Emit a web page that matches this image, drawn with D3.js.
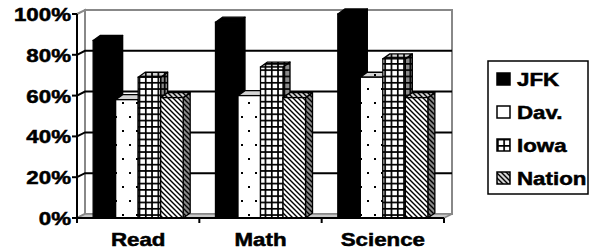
<!DOCTYPE html>
<html>
<head>
<meta charset="utf-8">
<script src="https://cdn.jsdelivr.net/npm/d3@7"></script>
<style>
    body { margin: 0; background: #fff; }
    text { font-family: "Liberation Sans", Arial, sans-serif; font-weight: bold; font-size: 18px; stroke: #000; stroke-width: 0.5px; }
</style>
</head>
<body>
<div id="chart"></div>
<script>
// Chart data
const categories = ['Read', 'Math', 'Science'];
const seriesNames = ['JFK', 'Dav.', 'Iowa', 'Nation'];
const jfk = [87, 96, 100];
const dav = [58, 60, 69];
const iowa = [69, 74, 78];
const nation = [59, 59, 59];
const yTicks = [0, 20, 40, 60, 80, 100];

function drawChart() {
    let width = 598;
    let height = 250;
    let series = [jfk, dav, iowa, nation];
    let fills = ['solid', 'dots', 'grid', 'hatch'];

    // 3D offsets: wall depth and bar depth
    let wdx = 8, wdy = 4;
    let bdx = 7, bdy = 5;
    let stretch = 1.24;

    const svg = d3.select('#chart')
    .append('svg')
    .attr('width', width)
    .attr('height', height)

    let x = d3.scaleBand()
    .domain(categories)
    .range([77, 444])
    .paddingInner(0.264)
    .paddingOuter(0.132)

    let xs = d3.scaleBand()
    .domain(seriesNames)
    .range([0, x.bandwidth()])

    let y = d3.scaleLinear()
    .domain([0, 100])
    .range([218, 14])

    // Patterns, one set per face shade
    const defs = svg.append('defs');
    function makePatterns(suffix, bg) {
        let dots = defs.append('pattern')
        .attr('id', 'dots' + suffix)
        .attr('patternUnits', 'userSpaceOnUse')
        .attr('width', 14).attr('height', 28)
        dots.append('rect').attr('width', 14).attr('height', 28).attr('fill', bg)
        dots.append('rect').attr('x', 3).attr('y', 4).attr('width', 2).attr('height', 2).attr('fill', '#000')
        dots.append('rect').attr('x', 10).attr('y', 18).attr('width', 2).attr('height', 2).attr('fill', '#000')

        let grid = defs.append('pattern')
        .attr('id', 'grid' + suffix)
        .attr('patternUnits', 'userSpaceOnUse')
        .attr('width', 6.3).attr('height', 6.3)
        grid.append('rect').attr('width', 6.3).attr('height', 6.3).attr('fill', bg)
        grid.append('rect').attr('width', 1.7).attr('height', 6.3).attr('fill', '#000')
        grid.append('rect').attr('width', 6.3).attr('height', 1.7).attr('fill', '#000')

        let hatch = defs.append('pattern')
        .attr('id', 'hatch' + suffix)
        .attr('patternUnits', 'userSpaceOnUse')
        .attr('width', 5).attr('height', 5)
        hatch.append('rect').attr('width', 5).attr('height', 5).attr('fill', bg)
        hatch.append('path')
        .attr('d', 'M-1,-1L6,6M-1,4L1,6M4,-1L6,1')
        .attr('stroke', '#000')
        .attr('stroke-width', 1.4)
    }
    makePatterns('F', '#ffffff');
    makePatterns('T', '#d4d4d4');
    makePatterns('S', '#8a8a8a');

    function faceFill(kind, face) {
        if (kind === 'solid') return '#000';
        return 'url(#' + kind + face + ')';
    }

    let y0 = y(0);
    let left = x.range()[0];
    let right = x.range()[1];

    // Side wall, back wall and floor
    svg.append('path')
    .attr('d', `M${left},${y(100)}L${left + wdx},${y(100) - wdy}L${left + wdx},${y0 - wdy}L${left},${y0}Z`)
    .attr('fill', '#fff')
    .attr('stroke', '#888')
    .attr('stroke-width', 2)

    svg.append('rect')
    .attr('x', left + wdx)
    .attr('y', y(100) - wdy)
    .attr('width', right - left)
    .attr('height', y0 - y(100))
    .attr('fill', '#fff')
    .attr('stroke', '#888')
    .attr('stroke-width', 2)

    svg.append('path')
    .attr('d', `M${left},${y0}L${left + wdx},${y0 - wdy}L${right + wdx},${y0 - wdy}L${right},${y0}Z`)
    .attr('fill', '#c8c8c8')
    .attr('stroke', '#888')
    .attr('stroke-width', 1.5)

    // Gridlines on the back wall and the side wall
    let gridTicks = yTicks.filter(t => t > 0 && t < 100);
    svg.selectAll('.grid')
    .data(gridTicks)
    .enter()
    .append('path')
    .attr('class', 'grid')
    .attr('d', t => `M${left},${y(t)}L${left + wdx},${y(t) - wdy}L${right + wdx},${y(t) - wdy}`)
    .attr('fill', 'none')
    .attr('stroke', '#000')
    .attr('stroke-width', 2)

    // Bars, drawn left to right so each hides the side of the one before
    categories.forEach((cat, ci) => {
        seriesNames.forEach((name, si) => {
            let v = series[si][ci];
            let bx = x(cat) + xs(name);
            let bw = xs.bandwidth();
            let top = y(v);
            let g = svg.append('g').attr('class', 'bar');

            g.append('path')
            .attr('d', `M${bx + bw},${top}L${bx + bw + bdx},${top - bdy}L${bx + bw + bdx},${y0 - bdy}L${bx + bw},${y0}Z`)
            .attr('fill', faceFill(fills[si], 'S'))
            .attr('stroke', '#000')
            .attr('stroke-width', 1.3)
            .attr('stroke-linejoin', 'round')

            g.append('path')
            .attr('d', `M${bx},${top}L${bx + bdx},${top - bdy}L${bx + bw + bdx},${top - bdy}L${bx + bw},${top}Z`)
            .attr('fill', faceFill(fills[si], 'T'))
            .attr('stroke', '#000')
            .attr('stroke-width', 1.3)
            .attr('stroke-linejoin', 'round')

            g.append('rect')
            .attr('x', bx)
            .attr('y', top)
            .attr('width', bw)
            .attr('height', y0 - top)
            .attr('fill', faceFill(fills[si], 'F'))
            .attr('stroke', '#000')
            .attr('stroke-width', 1.3)
        })
    })

    // Axes
    svg.append('line')
    .attr('x1', left).attr('x2', left)
    .attr('y1', y(100)).attr('y2', y0 + 1)
    .attr('stroke', '#000').attr('stroke-width', 2)

    svg.append('line')
    .attr('x1', left - 1).attr('x2', right)
    .attr('y1', y0).attr('y2', y0)
    .attr('stroke', '#000').attr('stroke-width', 2)

    svg.selectAll('.ytick')
    .data(yTicks)
    .enter()
    .append('line')
    .attr('class', 'ytick')
    .attr('x1', left - 5).attr('x2', left)
    .attr('y1', t => y(t)).attr('y2', t => y(t))
    .attr('stroke', '#000').attr('stroke-width', 2)

    svg.selectAll('.ylabel')
    .data(yTicks)
    .enter()
    .append('text')
    .attr('class', 'ylabel')
    .attr('transform', t => `translate(${left - 6},${y(t) + 7}) scale(${stretch},1)`)
    .attr('text-anchor', 'end')
    .text(t => t + '%')

    let bounds = [left].concat(categories.map(c => x(c) + x.bandwidth() + x.step() * x.paddingInner() / 2));
    bounds[bounds.length - 1] = right;
    svg.selectAll('.xtick')
    .data(bounds)
    .enter()
    .append('line')
    .attr('class', 'xtick')
    .attr('x1', d => d).attr('x2', d => d)
    .attr('y1', y0).attr('y2', y0 + 5)
    .attr('stroke', '#000').attr('stroke-width', 2)

    svg.selectAll('.xlabel')
    .data(categories)
    .enter()
    .append('text')
    .attr('class', 'xlabel')
    .attr('transform', c => `translate(${x(c) + x.bandwidth() / 2},246) scale(${stretch},1)`)
    .attr('text-anchor', 'middle')
    .text(c => c)

    // Legend
    let legend = svg.append('g').attr('class', 'legend');
    legend.append('rect')
    .attr('x', 488).attr('y', 61)
    .attr('width', 100).attr('height', 133)
    .attr('fill', '#fff')
    .attr('stroke', '#000')
    .attr('stroke-width', 1.5)

    let legendY = d3.scalePoint()
    .domain(seriesNames)
    .range([79, 178])

    let items = legend.selectAll('.item')
    .data(seriesNames)
    .enter()
    .append('g')
    .attr('class', 'item')
    .attr('transform', n => `translate(497,${legendY(n)})`)

    items.append('rect')
    .attr('x', 0).attr('y', -6)
    .attr('width', 13).attr('height', 12)
    .attr('fill', (n, i) => fills[i] === 'solid' ? '#000' : (fills[i] === 'dots' ? '#fff' : faceFill(fills[i], fills[i] === 'hatch' ? 'T' : 'F')))
    .attr('stroke', '#000')
    .attr('stroke-width', 1.5)

    items.append('text')
    .attr('transform', `translate(20,7) scale(${stretch},1)`)
    .text(n => n)
}

drawChart();
</script>
</body>
</html>
